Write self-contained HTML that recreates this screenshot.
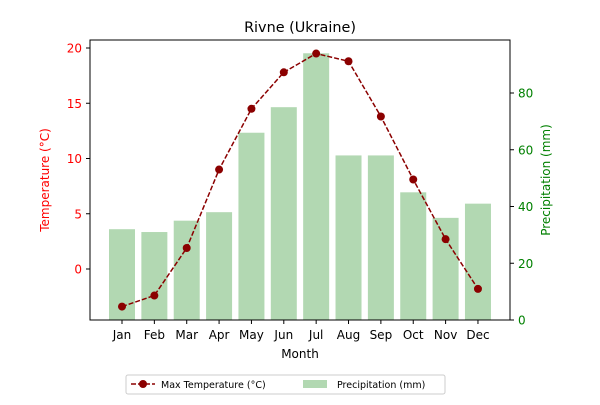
<!DOCTYPE html>
<html><head><meta charset="utf-8"><style>
body{margin:0;background:#fff;font-family:"Liberation Sans","DejaVu Sans",sans-serif;}
svg text{font-family:"DejaVu Sans","Liberation Sans",sans-serif;}
</style></head><body>
<svg id="chart" width="600" height="400">
<text x="300" y="32" text-anchor="middle" font-size="14.4">Rivne (Ukraine)</text>
<g id="bars"></g><g id="line"></g><g id="axes"></g>
<rect x="90" y="40" width="420" height="280" fill="none" stroke="#000" stroke-width="1"/>
<text x="300" y="358" text-anchor="middle" font-size="12">Month</text>
<text transform="translate(49,180) rotate(-90)" text-anchor="middle" font-size="12" fill="red">Temperature (°C)</text>
<text transform="translate(550,180) rotate(-90)" text-anchor="middle" font-size="12" fill="green">Precipitation (mm)</text>
<g>
<rect x="126" y="375" width="319" height="19" fill="#fff" stroke="#ccc" rx="2"/>
<line x1="131" y1="384" x2="155" y2="384" stroke="#8b0000" stroke-width="1.5" stroke-dasharray="5,2"/>
<circle cx="143" cy="384" r="4" fill="#8b0000"/>
<text x="161" y="388" font-size="9.5">Max Temperature (°C)</text>
<rect x="303" y="380" width="24" height="8" fill="#b2d8b2"/>
<text x="337" y="388" font-size="9.5">Precipitation (mm)</text>
</g>
</svg>
<script>
const months=["Jan","Feb","Mar","Apr","May","Jun","Jul","Aug","Sep","Oct","Nov","Dec"];
const temps=[-3.4,-2.4,1.9,9.0,14.5,17.8,19.5,18.8,13.8,8.1,2.7,-1.8];
const precip=[32,31,35,38,66,75,94,58,58,45,36,41];
const tempTicks=[0,5,10,15,20];
const precipTicks=[0,20,40,60,80];
const NS="http://www.w3.org/2000/svg";
function xs(i){return 122+i*32.36;}
function yT(v){return 269-v*11.05;}
function yP(v){return 320-v*2.8375;}
function mk(tag,attrs,parent,text){const e=document.createElementNS(NS,tag);for(const k in attrs)e.setAttribute(k,attrs[k]);if(text!==undefined)e.textContent=text;document.getElementById(parent).appendChild(e);return e;}
precip.forEach((v,i)=>{const r=mk("rect",{x:xs(i)-13,y:yP(v),width:26,height:320-yP(v),fill:"#b2d8b2"},"bars");

});
const pts=temps.map((v,i)=>xs(i)+","+yT(v)).join(" ");
const pl=mk("polyline",{points:pts,fill:"none",stroke:"#8b0000","stroke-width":1.5,"stroke-dasharray":"5,2"},"line");


temps.forEach((v,i)=>{const c=mk("circle",{cx:xs(i),cy:yT(v),r:4,fill:"#8b0000"},"line");

});
months.forEach((m,i)=>{mk("line",{x1:xs(i),x2:xs(i),y1:320,y2:324,stroke:"#000"},"axes");
const t=mk("text",{x:xs(i),y:339,"text-anchor":"middle","font-size":12},"axes",m);

});
tempTicks.forEach(v=>{mk("line",{x1:86,x2:90,y1:yT(v),y2:yT(v),stroke:"#000"},"axes");
const t=mk("text",{x:82,y:yT(v)+4.5,"text-anchor":"end","font-size":12,fill:"red"},"axes",v);

});
precipTicks.forEach(v=>{mk("line",{x1:510,x2:514,y1:yP(v),y2:yP(v),stroke:"#000"},"axes");
const t=mk("text",{x:518,y:yP(v)+4.5,"font-size":12,fill:"green"},"axes",v);

});
</script>
</body></html>
